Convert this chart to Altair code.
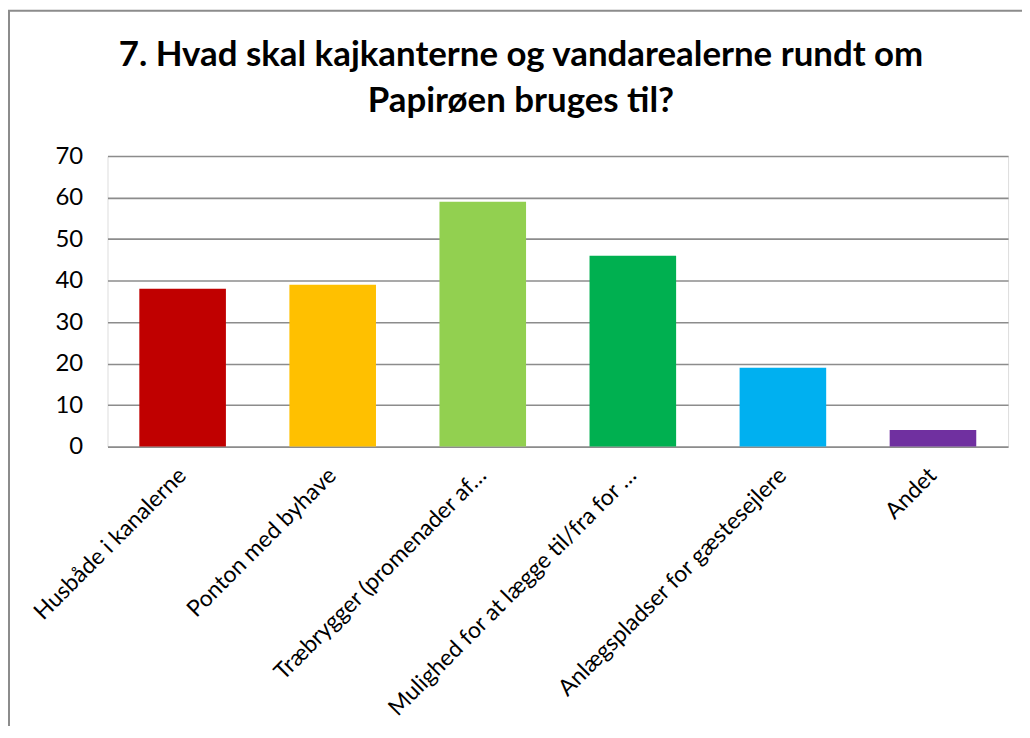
import altair as alt
import pandas as pd

categories = [
    "Husbåde i kanalerne",
    "Ponton med byhave",
    "Træbrygger (promenader af…",
    "Mulighed for at lægge til/fra for …",
    "Anlægspladser for gæstesejlere",
    "Andet",
]
values = [38, 39, 59, 46, 19, 4]
colors = ["#C00000", "#FFC000", "#92D050", "#00B050", "#00B0F0", "#7030A0"]
y_ticks = [0, 10, 20, 30, 40, 50, 60, 70]
title_lines = ["7. Hvad skal kajkanterne og vandarealerne rundt om", "Papirøen bruges til?"]

df = pd.DataFrame({"kategori": categories, "antal": values, "farve": colors})

W, H = 905, 292
PAD = {"left": 100, "top": 147, "right": 14, "bottom": 279}
GRID = "#8c8c8c"

bars = alt.Chart(df).mark_bar().encode(
    x=alt.X(
        "kategori:N",
        sort=categories,
        scale=alt.Scale(paddingInner=0.423, paddingOuter=0.212),
        axis=alt.Axis(
            title=None,
            labelAngle=-45,
            labelAlign="right",
            labelBaseline="middle",
            labelFont="Lato",
            labelFontSize=23,
            labelColor="#000000",
            labelPadding=25,
            labelLimit=0,
            ticks=False,
            domain=False,
            grid=False,
        ),
    ),
    y=alt.Y(
        "antal:Q",
        scale=alt.Scale(domain=[0, 70], nice=False),
        axis=alt.Axis(
            values=y_ticks,
            title=None,
            labelFont="Lato",
            labelFontSize=24,
            labelColor="#000000",
            labelPadding=25,
            ticks=False,
            domain=False,
            grid=True,
            gridColor=GRID,
            gridWidth=1.6,
        ),
    ),
    color=alt.Color("farve:N", scale=None, legend=None),
)

frame = alt.Chart(pd.DataFrame({"f": [0]})).mark_rect(
    filled=False, stroke=GRID, strokeWidth=2
).encode(
    x=alt.value(-99), y=alt.value(-146), x2=alt.value(W + 300), y2=alt.value(H + 500)
)

chart = alt.layer(bars, frame).properties(
    width=W,
    height=H,
    autosize=alt.AutoSizeParams(type="none"),
    padding=PAD,
    title=alt.TitleParams(
        text=title_lines,
        font="Lato",
        fontSize=35,
        fontWeight="bold",
        color="#000000",
        anchor="middle",
        frame="group",
        dx=-37,
        dy=110,
        offset=0,
        lineHeight=46,
    ),
).configure_view(stroke=None).configure(background="white")

chart.save("out.html", embed_options={"renderer": "svg", "actions": False})
